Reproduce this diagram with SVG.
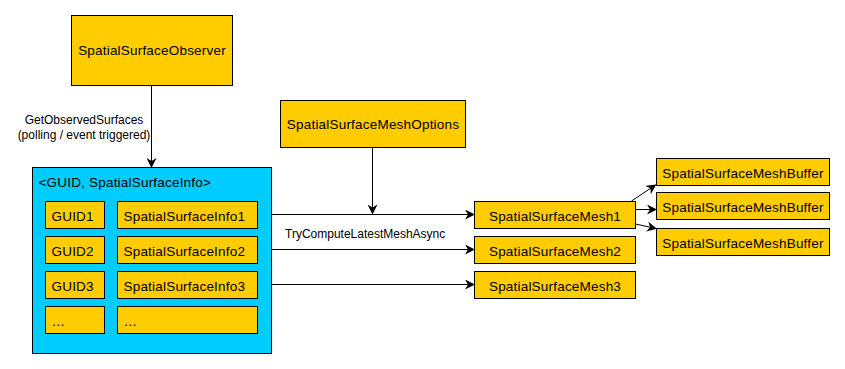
<svg xmlns="http://www.w3.org/2000/svg" width="845" height="369" viewBox="0 0 845 369">
<style>
.box{fill:#FFCC00;stroke:#000;stroke-width:1}
.cont{fill:#00CCFF;stroke:#000;stroke-width:1}
text{font-family:"Liberation Sans",Arial,sans-serif;font-size:13.5px;letter-spacing:0.2px;fill:#000}
.c{text-anchor:middle}
.lbl{font-size:12px;letter-spacing:0}
.edge{stroke:#000;stroke-width:1;fill:none;marker-end:url(#arr)}
</style>
<defs>
<marker id="arr" viewBox="0 0 10 10" refX="9" refY="5" markerWidth="10" markerHeight="10" markerUnits="userSpaceOnUse" orient="auto">
<path d="M0,0 L10,5 L0,10 L3,5 Z" fill="#000"/>
</marker>
</defs>
<rect width="845" height="369" fill="#fff"/>
<g id="connectors">
<line class="edge" x1="151.5" y1="85.5" x2="151.5" y2="167"/>
<line class="edge" x1="372.5" y1="147.5" x2="372.5" y2="213.5"/>
<line class="edge" x1="257.5" y1="214.5" x2="474" y2="214.5"/>
<line class="edge" x1="257.5" y1="249.5" x2="474" y2="249.5"/>
<line class="edge" x1="257.5" y1="284.5" x2="474" y2="284.5"/>
<line class="edge" x1="631.5" y1="201" x2="655.5" y2="185"/>
<line class="edge" x1="635.5" y1="209.5" x2="656" y2="209.5"/>
<line class="edge" x1="635.5" y1="224" x2="656" y2="228.5"/>
<text class="c lbl" x="84" y="124">GetObservedSurfaces</text>
<text class="c lbl" x="84" y="139">(polling / event triggered)</text>
<text class="lbl" x="285" y="238">TryComputeLatestMeshAsync</text>
</g>
<g id="observer">
<rect class="box" x="71.5" y="15.5" width="161" height="70"/>
<text class="c" x="152" y="55">SpatialSurfaceObserver</text>
</g>
<g id="options">
<rect class="box" x="280.5" y="100.5" width="185" height="47"/>
<text class="c" x="373" y="129">SpatialSurfaceMeshOptions</text>
</g>
<g id="map">
<rect class="cont" x="32.5" y="167.5" width="239" height="186"/>
<text x="38.5" y="187">&lt;GUID, SpatialSurfaceInfo&gt;</text>
</g>
<g id="guid1"><rect class="box" x="45.5" y="201.5" width="59" height="27"/><text x="51.5" y="220.5">GUID1</text></g>
<g id="info1"><rect class="box" x="117.5" y="201.5" width="140" height="27"/><text x="123.5" y="220.5">SpatialSurfaceInfo1</text></g>
<g id="guid2"><rect class="box" x="45.5" y="236.5" width="59" height="27"/><text x="51.5" y="255.5">GUID2</text></g>
<g id="info2"><rect class="box" x="117.5" y="236.5" width="140" height="27"/><text x="123.5" y="255.5">SpatialSurfaceInfo2</text></g>
<g id="guid3"><rect class="box" x="45.5" y="271.5" width="59" height="27"/><text x="51.5" y="290.5">GUID3</text></g>
<g id="info3"><rect class="box" x="117.5" y="271.5" width="140" height="27"/><text x="123.5" y="290.5">SpatialSurfaceInfo3</text></g>
<g id="guid4"><rect class="box" x="45.5" y="306.5" width="59" height="27"/><text x="51.5" y="326">…</text></g>
<g id="info4"><rect class="box" x="117.5" y="306.5" width="140" height="27"/><text x="123.5" y="326">…</text></g>
<g id="mesh1"><rect class="box" x="474.5" y="201.5" width="161" height="27"/><text class="c" x="555" y="220.5">SpatialSurfaceMesh1</text></g>
<g id="mesh2"><rect class="box" x="474.5" y="236.5" width="161" height="27"/><text class="c" x="555" y="255.5">SpatialSurfaceMesh2</text></g>
<g id="mesh3"><rect class="box" x="474.5" y="271.5" width="161" height="27"/><text class="c" x="555" y="290.5">SpatialSurfaceMesh3</text></g>
<g id="buffer1"><rect class="box" x="656.5" y="158.5" width="173" height="27"/><text class="c" x="743" y="177.5">SpatialSurfaceMeshBuffer</text></g>
<g id="buffer2"><rect class="box" x="656.5" y="192.5" width="173" height="27"/><text class="c" x="743" y="211.5">SpatialSurfaceMeshBuffer</text></g>
<g id="buffer3"><rect class="box" x="656.5" y="228.5" width="173" height="27"/><text class="c" x="743" y="247.5">SpatialSurfaceMeshBuffer</text></g>
</svg>
